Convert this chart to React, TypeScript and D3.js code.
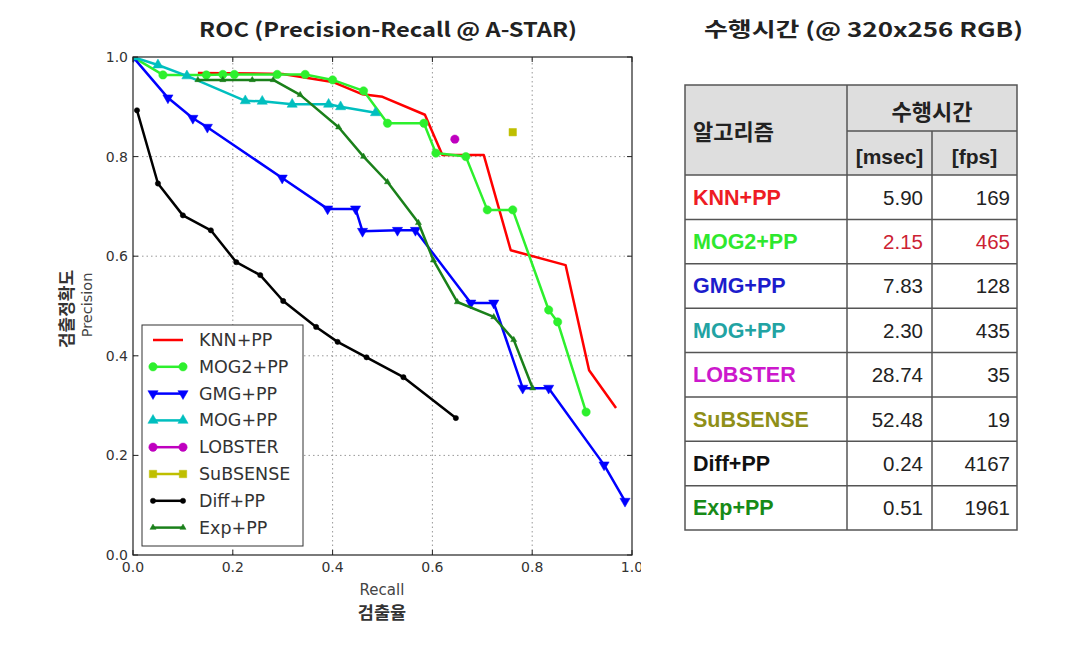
import React from "react";
import * as d3 from "d3";

// ---------- data ----------
const knn: [number, number][] = [
  [0.13, 0.968], [0.3, 0.966], [0.4, 0.95], [0.46, 0.925], [0.5, 0.92],
  [0.585, 0.884], [0.62, 0.803], [0.703, 0.803], [0.757, 0.612],
  [0.867, 0.582], [0.914, 0.371], [0.968, 0.295],
];
const mog2: [number, number][] = [
  [0.0, 1.0], [0.06, 0.964], [0.147, 0.964], [0.18, 0.965], [0.203, 0.965],
  [0.289, 0.965], [0.345, 0.965], [0.4, 0.954], [0.462, 0.932], [0.51, 0.867],
  [0.583, 0.867], [0.607, 0.807], [0.667, 0.8], [0.71, 0.693], [0.761, 0.693],
  [0.833, 0.492], [0.851, 0.468], [0.908, 0.287],
];
const gmg: [number, number][] = [
  [0.0, 1.0], [0.07, 0.918], [0.12, 0.877], [0.149, 0.859], [0.299, 0.757],
  [0.39, 0.695], [0.446, 0.695], [0.46, 0.65], [0.53, 0.652], [0.566, 0.652],
  [0.677, 0.506], [0.723, 0.506], [0.781, 0.335], [0.833, 0.335],
  [0.944, 0.181], [0.986, 0.108],
];
const mog: [number, number][] = [
  [0.0, 1.0], [0.05, 0.984], [0.108, 0.962], [0.225, 0.912], [0.259, 0.911],
  [0.319, 0.905], [0.392, 0.905], [0.416, 0.9], [0.486, 0.888],
];
const lobster: [number, number][] = [[0.645, 0.835]];
const subsense: [number, number][] = [[0.761, 0.849]];
const diff: [number, number][] = [
  [0.008, 0.893], [0.05, 0.746], [0.1, 0.682], [0.156, 0.652], [0.207, 0.588],
  [0.255, 0.562], [0.301, 0.51], [0.367, 0.458], [0.41, 0.428], [0.468, 0.397],
  [0.542, 0.357], [0.647, 0.275],
];
const exp: [number, number][] = [
  [0.13, 0.954], [0.18, 0.954], [0.239, 0.954], [0.281, 0.954], [0.335, 0.924],
  [0.412, 0.859], [0.462, 0.8], [0.51, 0.749], [0.572, 0.667], [0.602, 0.592],
  [0.65, 0.508], [0.723, 0.478], [0.763, 0.432], [0.801, 0.335],
];

const seriesNames = ["KNN+PP", "MOG2+PP", "GMG+PP", "MOG+PP", "LOBSTER", "SuBSENSE", "Diff+PP", "Exp+PP"];
const ticks = [0, 0.2, 0.4, 0.6, 0.8, 1.0];

const algorithms = ["KNN+PP", "MOG2+PP", "GMG+PP", "MOG+PP", "LOBSTER", "SuBSENSE", "Diff+PP", "Exp+PP"];
const msec = ["5.90", "2.15", "7.83", "2.30", "28.74", "52.48", "0.24", "0.51"];
const fps = ["169", "465", "128", "435", "35", "19", "4167", "1961"];

// ---------- styles ----------
type Marker = "none" | "circle" | "tdown" | "tup" | "square" | "dot" | "smalltri";
const series = [
  { data: knn, color: "#ff0000", marker: "none" as Marker },
  { data: mog2, color: "#2df02d", marker: "circle" as Marker },
  { data: gmg, color: "#0000ff", marker: "tdown" as Marker },
  { data: mog, color: "#00bfbf", marker: "tup" as Marker },
  { data: lobster, color: "#bf00bf", marker: "circle" as Marker },
  { data: subsense, color: "#bfbf00", marker: "square" as Marker },
  { data: diff, color: "#000000", marker: "dot" as Marker },
  { data: exp, color: "#1a801a", marker: "smalltri" as Marker },
];
const rowColors = ["#ee1c24", "#2ee82e", "#1c1ccc", "#22a3a3", "#cc18cc", "#8f8f18", "#111111", "#178a17"];

const W = 1072, H = 646;
const x = d3.scaleLinear().domain([0, 1]).range([133, 632]);
const y = d3.scaleLinear().domain([0, 1]).range([555, 57]);

function markerPath(m: Marker): string | null {
  switch (m) {
    case "circle": return d3.symbol().type(d3.symbolCircle).size(55)();
    case "dot": return d3.symbol().type(d3.symbolCircle).size(22)();
    case "tup": return d3.symbol().type(d3.symbolTriangle).size(45)();
    case "tdown": return d3.symbol().type(d3.symbolTriangle).size(45)();
    case "square": return d3.symbol().type(d3.symbolSquare).size(55)();
    case "smalltri": return d3.symbol().type(d3.symbolTriangle).size(16)();
    default: return null;
  }
}

function Markers({ pts, m, color }: { pts: [number, number][]; m: Marker; color: string }) {
  const p = markerPath(m);
  if (!p) return null;
  return (
    <g>
      {pts.map((d, i) => (
        <path key={i} d={p} fill={color} stroke={color} strokeWidth={0.5}
          transform={`translate(${d[0]},${d[1]})${m === "tdown" ? " rotate(180)" : ""}`} />
      ))}
    </g>
  );
}

export default function App() {
  const line = d3.line<[number, number]>().x(d => x(d[0])).y(d => y(d[1]));
  const tickFont = "DejaVu Sans, sans-serif";
  const kr = "'Noto Sans CJK KR', sans-serif";
  const arial = "'Liberation Sans', Arial, sans-serif";

  // legend
  const lgX = 142, lgY = 325, lgW = 161, lgH = 221;
  const lgRow0 = 340, lgStep = 26.8;

  // table
  const tL = 685, tR = 1017, tC1 = 847, tC2 = 932, tTop = 85, tMid = 131, tHead = 175;
  const rowH = (530 - tHead) / algorithms.length;

  return (
    <svg width={W} height={H} style={{ position: "absolute", left: 0, top: 0 }}>
      <rect width={W} height={H} fill="#fff" />
      <defs>
        <clipPath id="plotclip"><rect x={133} y={57} width={499} height={498} /></clipPath>
        <clipPath id="figclip"><rect x={0} y={0} width={641} height={H} /></clipPath>
      </defs>

      {/* titles */}
      <text x={199} y={37} fontFamily={kr} fontWeight="bold" fontSize={20} fill="#222"
        textLength={378} lengthAdjust="spacingAndGlyphs">
        ROC (Precision-Recall @ A-STAR)
      </text>
      <text x={704} y={37} fontFamily={kr} fontWeight="bold" fontSize={20} fill="#222"
        textLength={319} lengthAdjust="spacingAndGlyphs">
        수행시간 (@ 320x256  RGB)
      </text>

      {/* grid */}
      <g stroke="#999" strokeWidth={1} strokeDasharray="1.5,3">
        {ticks.slice(1, -1).map(t => (
          <line key={"gx" + t} x1={x(t)} x2={x(t)} y1={y(0)} y2={y(1)} />
        ))}
        {ticks.slice(1, -1).map(t => (
          <line key={"gy" + t} x1={x(0)} x2={x(1)} y1={y(t)} y2={y(t)} />
        ))}
      </g>

      {/* series */}
      <g clipPath="url(#plotclip)">
        {series.map((s, i) => (
          <g key={i}>
            {s.data.length > 1 && (
              <path d={line(s.data) || ""} fill="none" stroke={s.color} strokeWidth={2.5} strokeLinejoin="round" />
            )}
            <Markers pts={s.data.map(d => [x(d[0]), y(d[1])] as [number, number])} m={s.marker} color={s.color} />
          </g>
        ))}
      </g>

      {/* frame + ticks */}
      <rect x={x(0)} y={y(1)} width={x(1) - x(0)} height={y(0) - y(1)} fill="none" stroke="#222" strokeWidth={1.2} />
      <g stroke="#222" strokeWidth={1}>
        {ticks.map(t => (
          <g key={"t" + t}>
            <line x1={x(t)} x2={x(t)} y1={y(0)} y2={y(0) - 5} />
            <line x1={x(t)} x2={x(t)} y1={y(1)} y2={y(1) + 5} />
            <line x1={x(0)} x2={x(0) + 5} y1={y(t)} y2={y(t)} />
            <line x1={x(1)} x2={x(1) - 5} y1={y(t)} y2={y(t)} />
          </g>
        ))}
      </g>
      <g clipPath="url(#figclip)" fontFamily={tickFont} fontSize={14} fill="#333">
        {ticks.map(t => (
          <text key={"xl" + t} x={x(t)} y={572} textAnchor="middle">{d3.format(".1f")(t)}</text>
        ))}
        {ticks.map(t => (
          <text key={"yl" + t} x={128} y={y(t) + 5} textAnchor="end">{d3.format(".1f")(t)}</text>
        ))}
      </g>

      {/* axis labels */}
      <text x={382} y={595} textAnchor="middle" fontFamily={tickFont} fontSize={15} fill="#444">Recall</text>
      <text x={382} y={619} textAnchor="middle" fontFamily={kr} fontWeight="bold" fontSize={17.5} fill="#333">검출율</text>
      <text transform="translate(92,305) rotate(-90)" textAnchor="middle" fontFamily={tickFont} fontSize={14.5} fill="#444">Precision</text>
      <text transform="translate(73,309) rotate(-90)" textAnchor="middle" fontFamily={kr} fontWeight="bold" fontSize={17} fill="#333">검출정확도</text>

      {/* legend */}
      <rect x={lgX} y={lgY} width={lgW} height={lgH} fill="#fff" stroke="#333" strokeWidth={1} />
      {series.map((s, i) => {
        const yy = lgRow0 + i * lgStep;
        return (
          <g key={"lg" + i}>
            <line x1={153} x2={183} y1={yy} y2={yy} stroke={s.color} strokeWidth={2.5} />
            <Markers pts={[[153, yy], [183, yy]]} m={s.marker} color={s.color} />
            <text x={199} y={yy + 6} fontFamily={tickFont} fontSize={17.5} fill="#333">{seriesNames[i]}</text>
          </g>
        );
      })}

      {/* table */}
      <rect x={tL} y={tTop} width={tR - tL} height={tHead - tTop} fill="#dedede" />
      <g stroke="#555" strokeWidth={1.5} fill="none">
        <rect x={tL} y={tTop} width={tR - tL} height={530 - tTop} />
        <line x1={tC1} x2={tC1} y1={tTop} y2={530} />
        <line x1={tC2} x2={tC2} y1={tMid} y2={530} />
        <line x1={tC1} x2={tR} y1={tMid} y2={tMid} />
        {algorithms.map((_, i) => (
          <line key={"rl" + i} x1={tL} x2={tR} y1={tHead + i * rowH} y2={tHead + i * rowH} />
        ))}
      </g>
      <text x={693} y={140} fontFamily={kr} fontWeight="bold" fontSize={22} fill="#222">알고리즘</text>
      <text x={(tC1 + tR) / 2} y={120} textAnchor="middle" fontFamily={kr} fontWeight="bold" fontSize={22} fill="#222">수행시간</text>
      <text x={(tC1 + tC2) / 2} y={164} textAnchor="middle" fontFamily={arial} fontWeight="bold" fontSize={21} fill="#222">[msec]</text>
      <text x={(tC2 + tR) / 2} y={164} textAnchor="middle" fontFamily={arial} fontWeight="bold" fontSize={21} fill="#222">[fps]</text>
      {algorithms.map((a, i) => {
        const cy = tHead + i * rowH + rowH / 2 + 7.5;
        const numColor = i === 1 ? "#cc2233" : "#222";
        return (
          <g key={"row" + i} fontFamily={arial} fontSize={20.5}>
            <text x={693} y={cy} fontWeight="bold" fontSize={21.5} fill={rowColors[i]}>{a}</text>
            <text x={923} y={cy} textAnchor="end" fill={numColor}>{msec[i]}</text>
            <text x={1010} y={cy} textAnchor="end" fill={numColor}>{fps[i]}</text>
          </g>
        );
      })}
    </svg>
  );
}
